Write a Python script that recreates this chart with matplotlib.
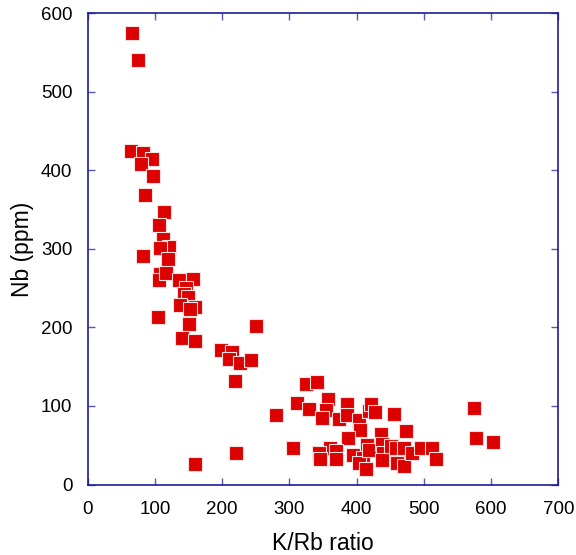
import matplotlib
matplotlib.use('Agg')
import matplotlib.pyplot as plt
import numpy as np

plt.rcParams['font.family'] = ['Liberation Sans', 'DejaVu Sans']

# K/Rb ratio 与 Nb (ppm)
kr_ratio = [66, 75, 64, 82, 96, 79, 97, 85, 114, 106, 112, 121, 107, 83, 120,
            107, 106, 117, 136, 157, 146, 143, 149, 138, 159, 153, 104, 151, 140, 160,
            198, 214, 210, 227, 243, 219, 251, 280, 220, 159,
            324, 341, 312, 329, 357, 354, 348, 374, 386, 386, 403, 405, 418, 422, 427,
            456, 474, 436, 387, 305, 360, 344, 370, 345, 369, 395, 415, 409, 403, 414,
            419, 437, 439, 437, 451, 458, 471, 460, 471, 483, 495, 512, 518,
            574, 578, 602]
nb_ppm = [575, 540, 425, 422, 414, 408, 393, 369, 347, 330, 312, 303, 301, 291, 287,
          268, 260, 269, 261, 262, 250, 243, 239, 228, 226, 224, 213, 204, 186, 183,
          171, 169, 160, 155, 158, 132, 202, 88, 40, 26,
          128, 130, 104, 96, 109, 95, 85, 83, 103, 88, 82, 70, 93, 102, 92,
          90, 68, 64, 59, 46, 47, 40, 43, 32, 33, 38, 50, 34, 28, 20,
          44, 52, 40, 31, 49, 47, 47, 27, 23, 40, 46, 46, 33,
          97, 59, 54]

axcolor = '#1c1c96'

fig = plt.figure(figsize=(5.76, 5.55), dpi=100)
ax = fig.add_axes([0.152, 0.127, 0.8175, 0.849])

ax.plot(kr_ratio, nb_ppm, linestyle='none', marker='s', markersize=10,
        markerfacecolor='#dc0000', markeredgecolor='#f6e0e0', markeredgewidth=0.8)

ax.set_xlim(0, 700)
ax.set_ylim(0, 600)
ax.set_xticks(np.arange(0, 701, 100))
ax.set_yticks(np.arange(0, 601, 100))

for s in ax.spines.values():
    s.set_color(axcolor)
    s.set_linewidth(1.2)
ax.tick_params(direction='in', length=5, width=1, color='#5a5ab4',
               top=True, right=True, labelsize=13.5)
ax.tick_params(axis='x', pad=12)
ax.tick_params(axis='y', pad=11)

ax.set_xlabel('K/Rb ratio', fontsize=16.5, labelpad=10)
ax.set_ylabel('Nb (ppm)', fontsize=16.5, labelpad=5)

plt.savefig('out.png', dpi=100)
